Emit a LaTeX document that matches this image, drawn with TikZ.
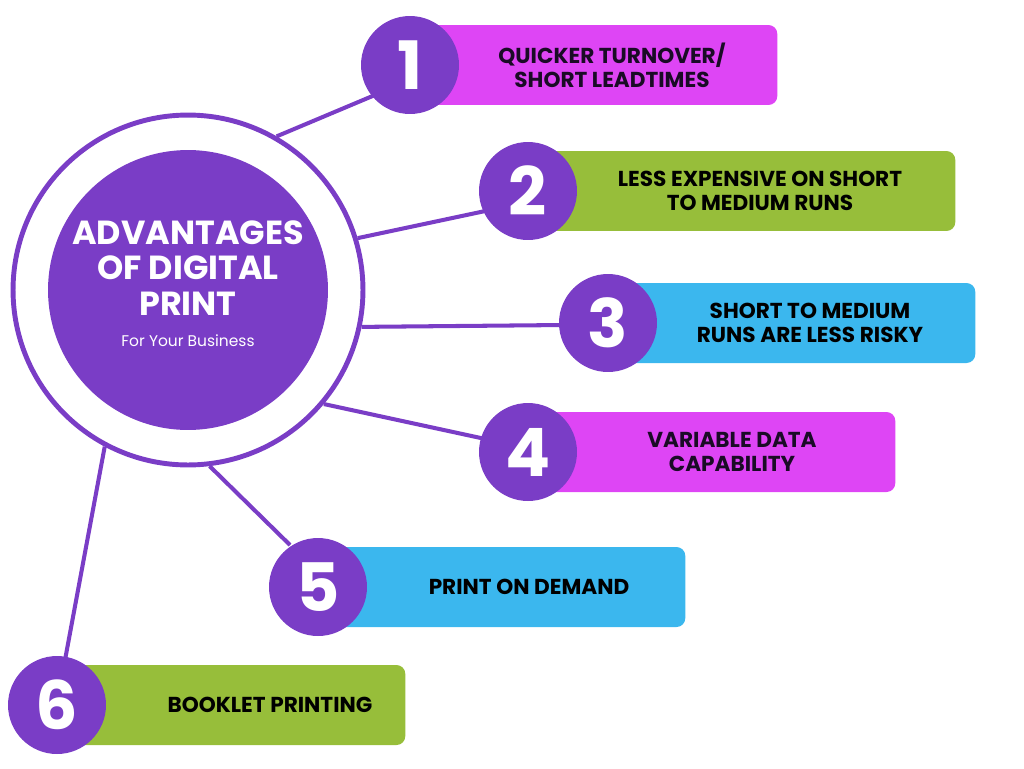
\documentclass[tikz,border=0pt]{standalone}
\usepackage{fontspec}
\setmainfont{Poppins}
\usepackage{tikz}
\usetikzlibrary{positioning,calc}
\definecolor{Violet}{HTML}{7A3DC6}
\definecolor{Magenta}{HTML}{DE45F5}
\definecolor{Lime}{HTML}{97BE3A}
\definecolor{Sky}{HTML}{3BB7EE}
\definecolor{Ink}{HTML}{1A0B26}
\tikzset{
  hub/.style={circle, fill=Violet, minimum size=5.6cm, inner sep=0pt},
  ring/.style={circle, draw=Violet, line width=2.8pt, minimum size=7.0cm, inner sep=0pt},
  badge/.style={circle, fill=Violet, minimum size=1.96cm, inner sep=0pt, text=white,
    font=\fontsize{38}{38}\selectfont\bfseries},
  bar/.style={fill=#1, rounded corners=5pt, minimum height=1.6cm, anchor=west, inner sep=0pt},
  bar/.default=Magenta,
  bartext/.style={align=center, text=Ink, font=\fontsize{12.3}{13.6}\selectfont\bfseries},
  spoke/.style={draw=Violet, line width=2.3pt}
}

\begin{document}
\begin{tikzpicture}[x=0.02cm, y=-0.02cm]
  \useasboundingbox (0,0) rectangle (1024,768);
  % centre
  \node[ring] (ring) at (188,290) {};
  \node[hub] (hub) at (188,290) {};
  \node[align=center, text=white, font=\fontsize{19}{20}\selectfont\bfseries] (title) at (188,268)
    {ADVANTAGES\\OF DIGITAL\\PRINT};
  \node[text=white, font=\fontsize{8.8}{10}\selectfont] (sub) at (188,341) {For Your Business};
  % bars
  \node[bar=Magenta, minimum width=7.34cm] (b1) at (410,65) {};
  \node[bar=Lime, minimum width=8.54cm] (b2) at (528,191) {};
  \node[bar=Sky, minimum width=7.34cm] (b3) at (608,323) {};
  \node[bar=Magenta, minimum width=7.34cm] (b4) at (528,452) {};
  \node[bar=Sky, minimum width=7.34cm] (b5) at (318,587) {};
  \node[bar=Lime, minimum width=6.96cm] (b6) at (57,705) {};
  % spokes
  \draw[spoke] (ring.60) -- (375,95) coordinate (e1);
  \draw[spoke] (ring.17) -- (490,210) coordinate (e2);
  \draw[spoke] (ring.-12) -- (565,325) coordinate (e3);
  \draw[spoke] (ring.-40) -- (490,440) coordinate (e4);
  \draw[spoke] (ring.-83) -- (290,545) coordinate (e5);
  \draw[spoke] (ring.-118) -- (65,660) coordinate (e6);
  % numbers
  \node[badge] (n1) at (410,65) {1};
  \node[badge] (n2) at (528,191) {2};
  \node[badge] (n3) at (608,323) {3};
  \node[badge] (n4) at (528,452) {4};
  \node[badge] (n5) at (318,587) {5};
  \node[badge] (n6) at (57,705) {6};
  % labels
  \node[bartext] (t1) at (612,65) {QUICKER TURNOVER/\\SHORT LEADTIMES};
  \node[bartext, text=black] (t2) at (760,191) {LESS EXPENSIVE ON SHORT\\TO MEDIUM RUNS};
  \node[bartext, text=black] (t3) at (810,323) {SHORT TO MEDIUM\\RUNS ARE LESS RISKY};
  \node[bartext] (t4) at (732,452) {VARIABLE DATA\\CAPABILITY};
  \node[bartext, text=black] (t5) at (529,587) {PRINT ON DEMAND};
  \node[bartext, text=black] (t6) at (270,705) {BOOKLET PRINTING};
\end{tikzpicture}
\end{document}
